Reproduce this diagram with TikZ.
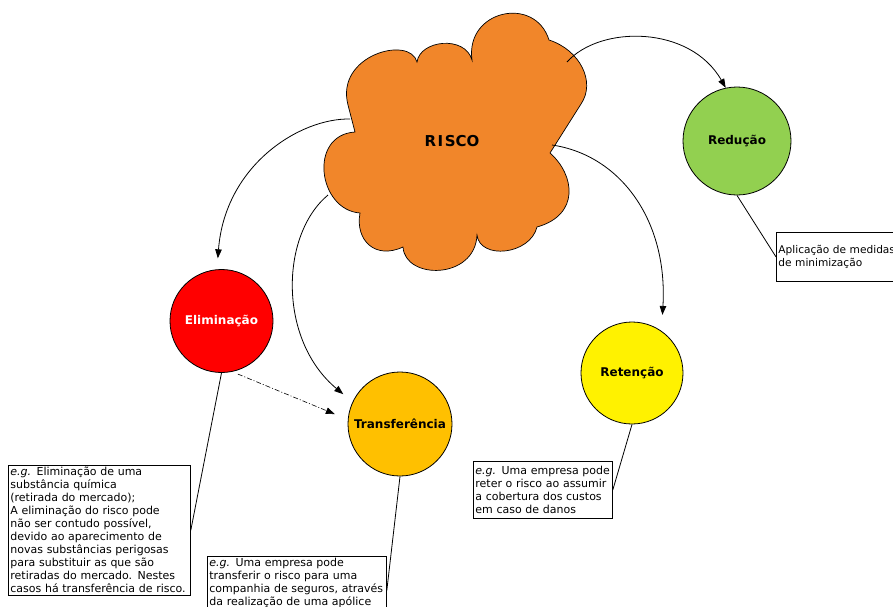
\documentclass[tikz,border=0pt]{standalone}
\usepackage{fontspec}
\setmainfont{DejaVu Sans}
\usetikzlibrary{arrows.meta}

\definecolor{cloudorange}{RGB}{241,134,42}
\definecolor{redgreen}{RGB}{146,208,80}
\definecolor{transamber}{RGB}{255,192,0}

\begin{document}
\begin{tikzpicture}[
    x=1pt, y=-1pt,
    line width=.8pt,
    risk/.style={circle, draw, minimum size=#1, inner sep=0pt, font=\fontsize{12}{14}\selectfont\bfseries},
    note/.style={draw, anchor=north west, align=left, inner sep=2pt, font=\fontsize{11}{13}\selectfont},
    link/.style={-{Triangle[length=9pt, width=6.5pt]}},
]
\useasboundingbox (0,0) rectangle (893,606);
\clip (0,0) rectangle (893,606);

% cloud
\draw[fill=cloudorange, line width=.7pt] (348,105)
  .. controls (335,55) and (410,35) .. (417,62)
  .. controls (420,40) and (465,35) .. (472,60)
  .. controls (465,10) and (535,-5) .. (549,40)
  .. controls (580,50) and (596,82) .. (581,104)
  -- (550,153)
  .. controls (575,175) and (580,215) .. (537,227)
  .. controls (530,255) and (480,260) .. (477,235)
  .. controls (475,280) and (405,280) .. (403,247)
  .. controls (375,260) and (355,240) .. (360,213)
  .. controls (318,210) and (308,135) .. (355,132) -- cycle;
\node[font=\fontsize{15}{17}\selectfont\bfseries] (risco) at (452,141) {R\kern1.5pt I\kern1.5pt SCO};

\coordinate (cl_red) at (567,62);
\coordinate (cl_elim) at (350,119);
\coordinate (cl_trans) at (328,195);
\coordinate (cl_ret) at (552,145);

% outcomes
\node[risk=108pt, fill=redgreen] (red) at (737,141) {Redução};
\node[risk=103pt, fill=red, text=white] (elim) at (221.5,321) {Eliminação};
\node[risk=104pt, fill=transamber] (trans) at (400,424) {Transferência};
\node[risk=102pt, fill=yellow] (ret) at (632,373) {Retenção};

\draw[link] (cl_red) .. controls (600,25) and (690,25) .. (red.102);
\draw[link, shorten >=11pt] (cl_elim) .. controls (300,118) and (225,165) .. (elim.95);
\draw[link, shorten >=12pt] (cl_trans) .. controls (280,235) and (278,340) .. (trans.155);
\draw[link, shorten >=16pt] (cl_ret) .. controls (620,155) and (668,220) .. (ret.55);
\draw[link, line width=.6pt, dash pattern=on 5pt off 2pt on 1pt off 2pt, shorten <=6pt, shorten >=14pt] (elim.-78) -- (trans.175);

% notes
\node[note, text width=178pt] (elimnote) at (8,465) {\textit{e.g.} Eliminação de uma\\substância química\\(retirada do mercado);\\A eliminação do risco pode\\não ser contudo possível,\\devido ao aparecimento de\\novas substâncias perigosas\\para substituir as que são\\retiradas do mercado. Nestes\\casos há transferência de risco.};
\node[note, text width=175pt, minimum height=68pt] (transnote) at (207,556) {\textit{e.g.} Uma empresa pode\\transferir o risco para uma\\companhia de seguros, através\\da realização de uma apólice\\ \strut};
\node[note, text width=135pt, minimum height=57pt] (retnote) at (473,461) {\textit{e.g.} Uma empresa pode\\reter o risco ao assumir\\a cobertura dos custos\\em caso de danos};
\node[note, text width=150pt, minimum height=49pt, font=\fontsize{10.6}{13}\selectfont] (rednote) at (776,232) {Aplicação de medidas\\de minimização};

\draw (elim.south) -- (elimnote.east);
\draw (trans.south) -- (transnote.east);
\draw (ret.south) -- (retnote.east);
\draw (red.south) -- (rednote.west);
\end{tikzpicture}
\end{document}
